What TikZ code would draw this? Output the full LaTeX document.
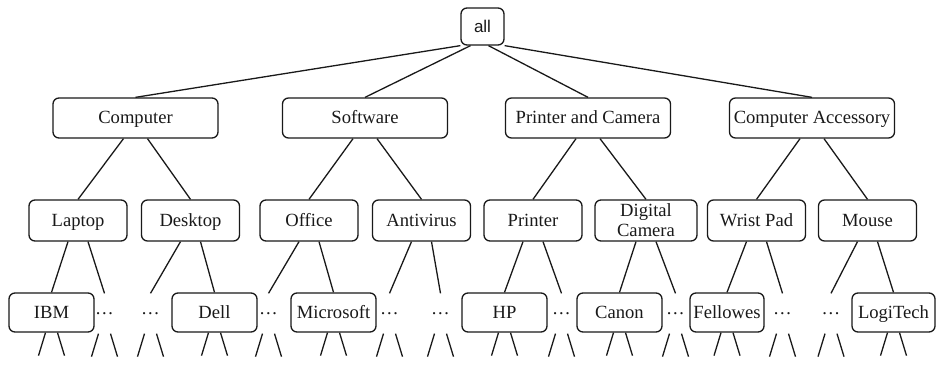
\documentclass[tikz,border=0pt]{standalone}
\usepackage{fontspec}
\setmainfont{Liberation Serif}
\setsansfont{Liberation Sans}

\tikzset{
	cat/.style={draw, rounded corners=3pt, inner xsep=1pt, inner ysep=0pt,
		font=\fontsize{9.3}{10}\selectfont},
	catone/.style={cat, minimum width=82.5pt, minimum height=20pt, text height=7.4pt, text depth=1.6pt},
	cattwo/.style={cat, minimum width=49pt, minimum height=20.5pt, text height=7.4pt, text depth=1.6pt},
	catthree/.style={cat, minimum width=42.5pt, minimum height=19.5pt, text height=7.4pt, text depth=1.6pt},
	more/.style={minimum height=19.5pt, inner sep=0pt, font=\fontsize{9.3}{10}\selectfont},
}

\begin{document}
\begin{tikzpicture}[x=0.5pt, y=-0.5pt, line width=0.65pt, color=black!90]
	\useasboundingbox (0,0) rectangle (936,385);

	\node [draw, rounded corners=3pt, minimum width=21.5pt, minimum height=18.5pt,
		inner sep=0pt, font=\sffamily\fontsize{8.5}{10}\selectfont] (all) at (482.5,26.5) {all};

	\node [catone] (comp) at (135.5,118) {Computer};
	\node [catone] (soft) at (365,118) {Software};
	\node [catone] (pac) at (588,118) {Printer and Camera};
	\node [catone] (acc) at (812,118) {Computer Accessory};

	\node [cattwo] (laptop) at (78,220.5) {Laptop};
	\node [cattwo] (desktop) at (190.5,220.5) {Desktop};
	\node [cattwo] (office) at (309,220.5) {Office};
	\node [cattwo] (antivirus) at (421.5,220.5) {Antivirus};
	\node [cattwo] (printer) at (533,220.5) {Printer};
	\node [cat, minimum width=51pt, minimum height=20.5pt, align=center] (camera) at (646,220.5) {Digital\\Camera};
	\node [cattwo] (wrist) at (756.5,220.5) {Wrist Pad};
	\node [cattwo] (mouse) at (867.5,220.5) {Mouse};

	\node [catthree] (ibm) at (51.5,312.5) {IBM};
	\node [more] (d1) at (104.5,313.5) {\dots};
	\node [more] (d2) at (150.5,313.5) {\dots};
	\node [catthree] (dell) at (214.5,312.5) {Dell};
	\node [more] (d3) at (268.5,313.5) {\dots};
	\node [catthree] (ms) at (333.5,312.5) {Microsoft};
	\node [more] (d4) at (389.5,313.5) {\dots};
	\node [more] (d5) at (440.5,313.5) {\dots};
	\node [catthree] (hp) at (504.5,312.5) {HP};
	\node [more] (d6) at (561.5,313.5) {\dots};
	\node [catthree] (canon) at (619.5,312.5) {Canon};
	\node [more] (d7) at (675.5,313.5) {\dots};
	\node [catthree, minimum width=37pt] (fellowes) at (727,312.5) {Fellowes};
	\node [more] (d8) at (782.5,313.5) {\dots};
	\node [more] (d9) at (831,313.5) {\dots};
	\node [catthree, minimum width=41.5pt] (logitech) at (893.5,312.5) {LogiTech};

	% root to categories
	\draw (all.south west) to (comp.north);
	\draw ([xshift=-6pt]all.south) to (soft.north);
	\draw ([xshift=3pt]all.south) to (pac.north);
	\draw (all.south east) to (acc.north);

	% categories to subcategories
	\draw ([xshift=-6pt]comp.south) to (laptop.north);
	\draw ([xshift=6pt]comp.south) to (desktop.north);
	\draw ([xshift=-6pt]soft.south) to (office.north);
	\draw ([xshift=6pt]soft.south) to (antivirus.north);
	\draw ([xshift=-6pt]pac.south) to (printer.north);
	\draw ([xshift=6pt]pac.south) to (camera.north);
	\draw ([xshift=-6pt]acc.south) to (wrist.north);
	\draw ([xshift=6pt]acc.south) to (mouse.north);

	% subcategories to brands
	\draw ([xshift=-5pt]laptop.south) to (ibm.north);
	\draw ([xshift=5pt]laptop.south) to (d1.north);
	\draw ([xshift=-5pt]desktop.south) to (d2.north);
	\draw ([xshift=5pt]desktop.south) to (dell.north);
	\draw ([xshift=-5pt]office.south) to (d3.north);
	\draw ([xshift=5pt]office.south) to (ms.north);
	\draw ([xshift=-5pt]antivirus.south) to (d4.north);
	\draw ([xshift=5pt]antivirus.south) to (d5.north);
	\draw ([xshift=-5pt]printer.south) to (hp.north);
	\draw ([xshift=5pt]printer.south) to (d6.north);
	\draw ([xshift=-5pt]camera.south) to (canon.north);
	\draw ([xshift=5pt]camera.south) to (d7.north);
	\draw ([xshift=-5pt]wrist.south) to (fellowes.north);
	\draw ([xshift=5pt]wrist.south) to (d8.north);
	\draw ([xshift=-5pt]mouse.south) to (d9.north);
	\draw ([xshift=5pt]mouse.south) to (logitech.north);

	% open branches below
	\foreach \b in {ibm,d1,d2,dell,d3,ms,d4,d5,hp,d6,canon,d7,fellowes,d8,d9,logitech} {
		\draw ([xshift=-3pt]\b.south) -- ++(-3.5pt,-11.5pt);
		\draw ([xshift=3pt]\b.south) -- ++(3.5pt,-11.5pt);
	}

\end{tikzpicture}
\end{document}
